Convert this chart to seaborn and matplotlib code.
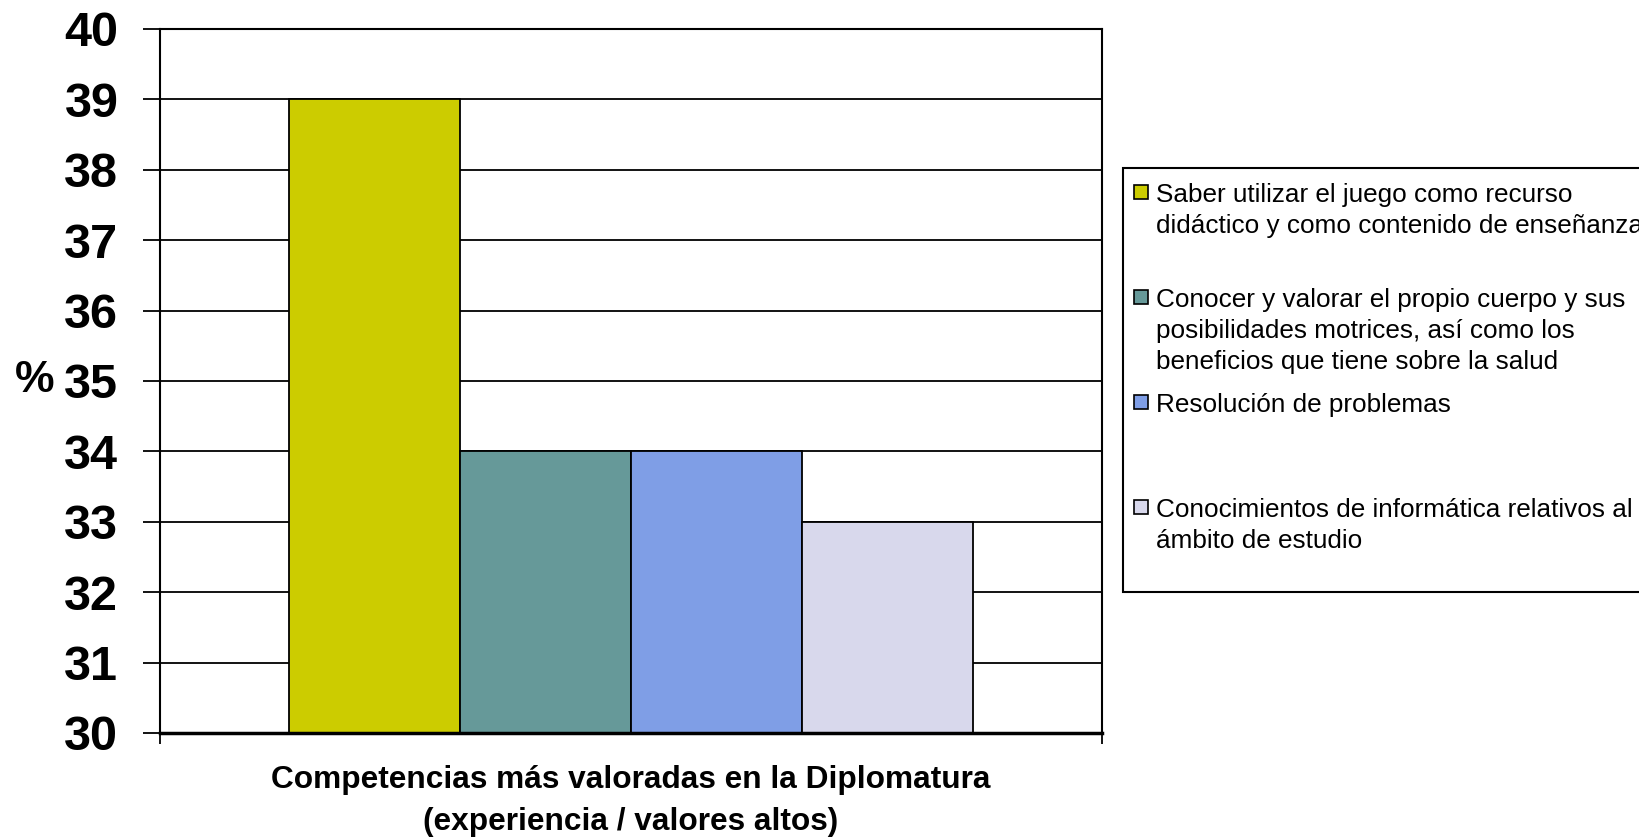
import matplotlib
matplotlib.use("Agg")
import matplotlib.pyplot as plt
from matplotlib.patches import Rectangle
import seaborn as sns
import pandas as pd

# Data
grupo = ["Competencias"]
competencias = [
    "Saber utilizar el juego como recurso\ndidáctico y como contenido de enseñanza",
    "Conocer y valorar el propio cuerpo y sus\nposibilidades motrices, así como los\nbeneficios que tiene sobre la salud",
    "Resolución de problemas",
    "Conocimientos de informática relativos al\námbito de estudio",
]
porcentajes = [39, 34, 34, 33]
colores = ["#CCCC00", "#669999", "#7F9EE6", "#D8D8EC"]
y_ticks = list(range(30, 41))

titulo_x = "Competencias más valoradas en la Diplomatura\n(experiencia / valores altos)"

sns.set_theme(style="white")
plt.rcParams["font.family"] = ["Liberation Sans", "DejaVu Sans"]
plt.rcParams.update({
    "text.color": "black",
    "axes.labelcolor": "black",
    "xtick.color": "black",
    "ytick.color": "black",
})

W, H = 1640, 839
fig = plt.figure(figsize=(W / 100, H / 100), dpi=100)


def fx(x):
    return x / W


def fy(y):
    return 1 - y / H


left, right, top, bottom = 160, 1102, 29, 733
ax = fig.add_axes([fx(left), fy(bottom), fx(right - left), (bottom - top) / H])

df = pd.DataFrame({
    "grupo": grupo * len(competencias),
    "competencia": competencias,
    "valor": porcentajes,
})

sns.barplot(
    data=df, x="grupo", y="valor", hue="competencia",
    hue_order=competencias, palette=colores, width=0.727,
    edgecolor="black", linewidth=1.3, saturation=1, legend=False, ax=ax,
)

ax.set_ylim(30, 40)
ax.set_xlim(-0.5, 0.5)
ax.set_yticks(y_ticks)
ax.set_yticklabels([str(v) for v in y_ticks], fontsize=35, fontweight="bold")
ax.set_xticks([-0.5, 0.5])
ax.set_xticklabels(["", ""])
ax.tick_params(axis="y", direction="out", length=12, width=1.3, color="black",
               pad=18, left=True)
ax.tick_params(axis="x", direction="out", length=8, width=1.3, color="black",
               bottom=True)

ax.set_axisbelow(True)
ax.yaxis.grid(True, color="black", linewidth=1.3)
ax.xaxis.grid(False)
for side in ["left", "right", "top"]:
    ax.spines[side].set_color("black")
    ax.spines[side].set_linewidth(1.5)
ax.spines["bottom"].set_color("black")
ax.spines["bottom"].set_linewidth(2.5)

ax.set_ylabel("%", rotation=0, fontsize=32, fontweight="bold", va="center", ha="center")
ax.yaxis.set_label_coords((35 - left) / (right - left), 0.5)
ax.set_xlabel(titulo_x, fontsize=22.8, fontweight="bold",
              linespacing=1.5, va="center", ha="center")
ax.xaxis.set_label_coords(0.5, -(801 - bottom) / (bottom - top))

# Legend box drawn at fixed figure positions
fig.patches.append(Rectangle((fx(1123), fy(592)), fx(1700 - 1123), (592 - 168) / H,
                             transform=fig.transFigure, facecolor="white",
                             edgecolor="black", linewidth=1.5, clip_on=False))
baselines = [202, 307, 412, 517]
for etiqueta, color, base in zip(competencias, colores, baselines):
    fig.patches.append(Rectangle((fx(1134), fy(base - 3)), fx(14), 14 / H,
                                 transform=fig.transFigure, facecolor=color,
                                 edgecolor="black", linewidth=1.2))
    for i, linea in enumerate(etiqueta.split("\n")):
        fig.text(fx(1156), fy(base + 31 * i), linea, fontsize=18.8,
                 va="baseline", ha="left", color="black")

fig.savefig("out.png", dpi=100, facecolor="white")
